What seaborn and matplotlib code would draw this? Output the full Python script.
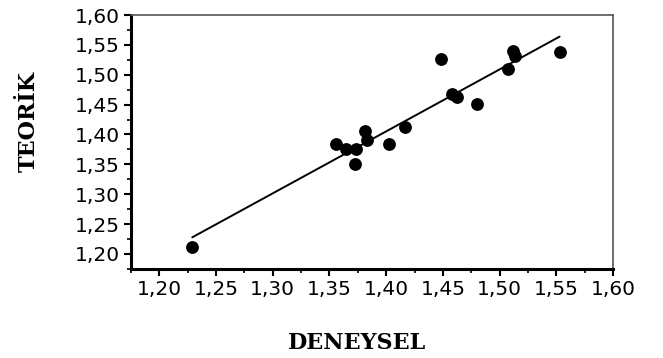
import matplotlib
matplotlib.use("Agg")
import matplotlib.pyplot as plt
import seaborn as sns
import numpy as np
import pandas as pd
from matplotlib.ticker import MultipleLocator, FuncFormatter

deneysel = [1.229, 1.3555, 1.365, 1.3738, 1.3723, 1.3811, 1.3832, 1.4027, 1.4165,
            1.448, 1.458, 1.462, 1.4804, 1.5078, 1.512, 1.514, 1.5529]
teorik = [1.2117, 1.3844, 1.376, 1.376, 1.3504, 1.4061, 1.390, 1.3833, 1.4123,
          1.5259, 1.468, 1.463, 1.4513, 1.5092, 1.540, 1.532, 1.5387]

df = pd.DataFrame({"DENEYSEL": deneysel, "TEORİK": teorik})

sns.set_style("ticks")
plt.rcParams["font.family"] = ["DejaVu Sans"]
plt.rcParams["text.color"] = "black"
plt.rcParams["axes.labelcolor"] = "black"

fig = plt.figure(figsize=(6.63, 3.58), dpi=100)
ax = fig.add_axes([0.1976, 0.249, 0.727, 0.709])

sns.regplot(data=df, x="DENEYSEL", y="TEORİK", ax=ax, ci=None,
            scatter_kws=dict(s=85, color="black", edgecolor="black", linewidths=0, alpha=1),
            line_kws=dict(color="black", lw=1.4))

ax.set_xlim(1.175, 1.60)
ax.set_ylim(1.175, 1.60)
fmt = FuncFormatter(lambda v, p: f"{v:.2f}".replace(".", ","))
for axis in (ax.xaxis, ax.yaxis):
    axis.set_major_locator(MultipleLocator(0.05))
    axis.set_minor_locator(MultipleLocator(0.025))
    axis.set_major_formatter(fmt)

ax.tick_params(which="major", direction="out", length=5, width=1.5, labelsize=14.5, pad=3,
               colors="black", labelcolor="black")
ax.tick_params(which="minor", direction="out", length=3, width=1.2, colors="black")
for s in ("left", "bottom"):
    ax.spines[s].set_linewidth(2.2)
    ax.spines[s].set_color("black")
for s in ("top", "right"):
    ax.spines[s].set_visible(True)
    ax.spines[s].set_linewidth(1.2)
    ax.spines[s].set_color("#555555")

ax.set_xlabel("DENEYSEL", family="DejaVu Serif", fontweight="bold", fontsize=16,
              labelpad=16, color="black")
ax.set_ylabel("TEORİK", family="DejaVu Serif", fontweight="bold", fontsize=16, color="black")
ax.yaxis.set_label_coords(-0.19, 0.58)
ax.xaxis.set_label_coords(0.47, -0.25)

fig.savefig("out.png", dpi=100)
